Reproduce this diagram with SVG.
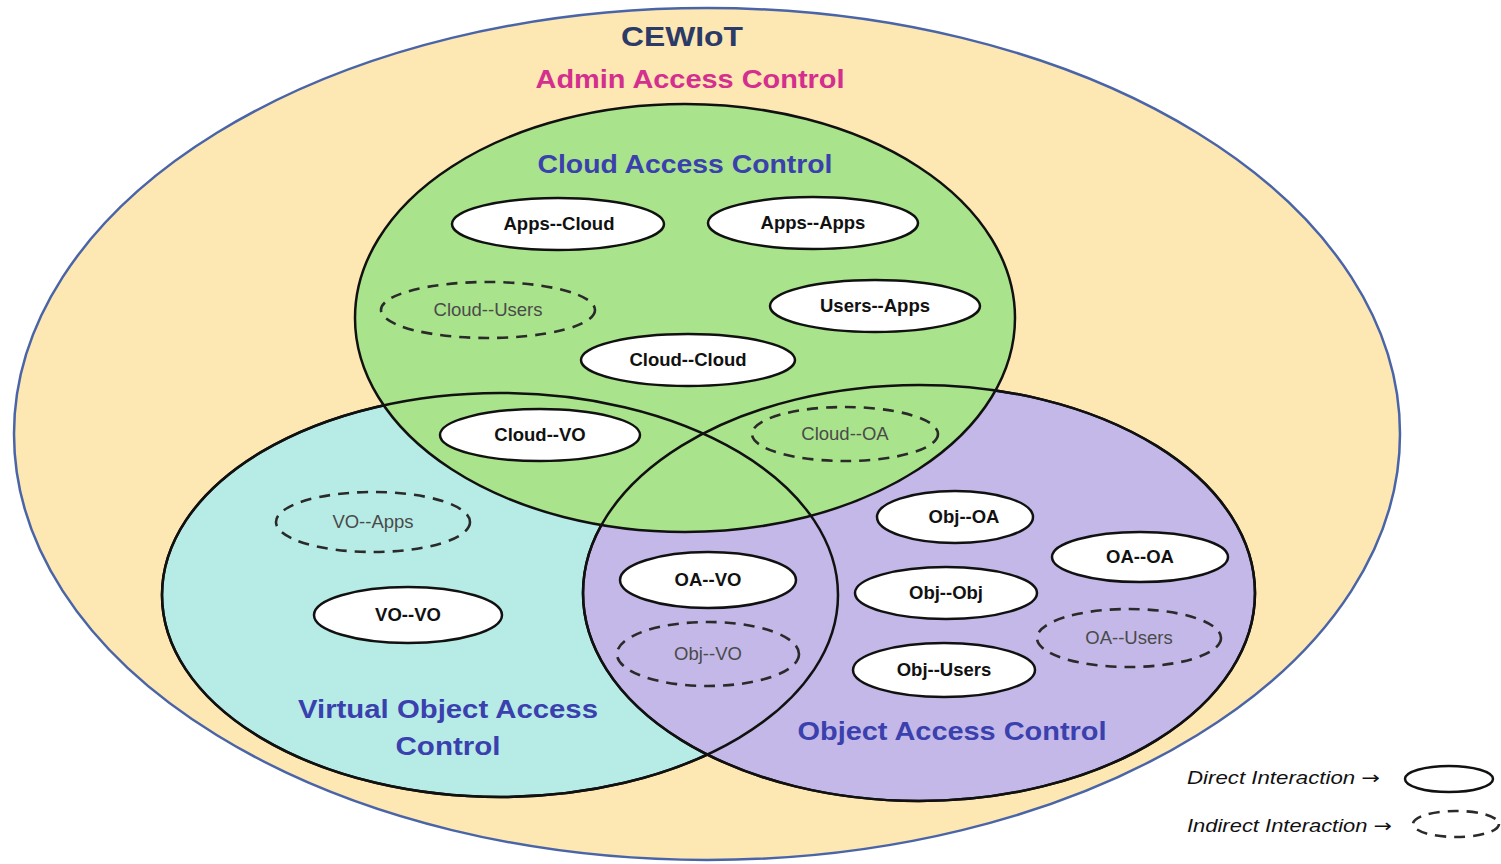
<svg xmlns="http://www.w3.org/2000/svg" width="1501" height="864" viewBox="0 0 1501 864">
<style>
.region{stroke:#111;stroke-width:2.5}
.edge{fill:none;stroke:#111;stroke-width:2.5}
.direct{fill:#fff;stroke:#111;stroke-width:2.5}
.indirect{fill:none;stroke:#2a2a2a;stroke-width:2.6;stroke-dasharray:11 8}
.dl{font-family:"Liberation Sans",Arial,sans-serif;font-weight:bold;font-size:18.5px;fill:#111;text-anchor:middle}
.il{font-family:"Liberation Sans",Arial,sans-serif;font-size:18.5px;fill:#4a4a4a;text-anchor:middle}
.title{font-family:"Liberation Sans",Arial,sans-serif;font-weight:bold;text-anchor:middle}
.blue{fill:#3a40ad;font-size:26px}
.leg{font-family:"Liberation Sans",Arial,sans-serif;font-style:italic;font-size:18px;fill:#111}
.arr{font-family:"DejaVu Sans",sans-serif;font-style:normal;font-size:18px}
</style>
<rect width="1501" height="864" fill="#fff"/>
<g id="admin-access-control">
<ellipse cx="707" cy="434" rx="693" ry="426" fill="#fde7b3" stroke="#4a64a8" stroke-width="2.5"/>
<text class="title" x="682" y="46" font-size="28" fill="#2b3a67" textLength="122" lengthAdjust="spacingAndGlyphs">CEWIoT</text>
<text class="title" x="690" y="88" font-size="26" fill="#d42f8e" textLength="309" lengthAdjust="spacingAndGlyphs">Admin Access Control</text>
</g>
<g id="virtual-object-access-control">
<ellipse class="region" cx="500" cy="595" rx="338" ry="202" fill="#b7ece6"/>
</g>
<g id="object-access-control">
<ellipse class="region" cx="919" cy="593" rx="336" ry="208" fill="#c3b8e7"/>
</g>
<g id="cloud-access-control">
<ellipse class="region" cx="685" cy="318" rx="330" ry="214" fill="#a9e38b"/>
</g>
<g id="region-edges">
<ellipse class="edge" cx="500" cy="595" rx="338" ry="202"/>
<ellipse class="edge" cx="919" cy="593" rx="336" ry="208"/>
</g>
<g id="region-labels">
<text class="title blue" x="685" y="173" textLength="295" lengthAdjust="spacingAndGlyphs">Cloud Access Control</text>
<text class="title blue" x="448" y="718" textLength="300" lengthAdjust="spacingAndGlyphs">Virtual Object Access</text>
<text class="title blue" x="448" y="755" textLength="105" lengthAdjust="spacingAndGlyphs">Control</text>
<text class="title blue" x="952" y="740" textLength="309" lengthAdjust="spacingAndGlyphs">Object Access Control</text>
</g>
<g id="connectors"></g>
<g id="apps-cloud"><ellipse class="direct" cx="558" cy="224" rx="106" ry="26"/><text class="dl" x="559" y="230">Apps--Cloud</text></g>
<g id="apps-apps"><ellipse class="direct" cx="813" cy="223" rx="105" ry="26"/><text class="dl" x="813" y="229">Apps--Apps</text></g>
<g id="cloud-users"><ellipse class="indirect" cx="488" cy="310" rx="107" ry="28"/><text class="il" x="488" y="316">Cloud--Users</text></g>
<g id="users-apps"><ellipse class="direct" cx="875" cy="306" rx="105" ry="26"/><text class="dl" x="875" y="312">Users--Apps</text></g>
<g id="cloud-cloud"><ellipse class="direct" cx="688" cy="360" rx="107" ry="26"/><text class="dl" x="688" y="366">Cloud--Cloud</text></g>
<g id="cloud-vo"><ellipse class="direct" cx="540" cy="435" rx="100" ry="26"/><text class="dl" x="540" y="441">Cloud--VO</text></g>
<g id="cloud-oa"><ellipse class="indirect" cx="845" cy="434" rx="93" ry="27"/><text class="il" x="845" y="440">Cloud--OA</text></g>
<g id="vo-apps"><ellipse class="indirect" cx="373" cy="522" rx="97" ry="30"/><text class="il" x="373" y="528">VO--Apps</text></g>
<g id="vo-vo"><ellipse class="direct" cx="408" cy="615" rx="94" ry="28"/><text class="dl" x="408" y="621">VO--VO</text></g>
<g id="oa-vo"><ellipse class="direct" cx="708" cy="580" rx="88" ry="28"/><text class="dl" x="708" y="586">OA--VO</text></g>
<g id="obj-vo"><ellipse class="indirect" cx="708" cy="654" rx="91" ry="32"/><text class="il" x="708" y="660">Obj--VO</text></g>
<g id="obj-oa"><ellipse class="direct" cx="955" cy="517" rx="78" ry="26"/><text class="dl" x="964" y="523">Obj--OA</text></g>
<g id="oa-oa"><ellipse class="direct" cx="1140" cy="557" rx="88" ry="25"/><text class="dl" x="1140" y="563">OA--OA</text></g>
<g id="obj-obj"><ellipse class="direct" cx="946" cy="593" rx="91" ry="26"/><text class="dl" x="946" y="599">Obj--Obj</text></g>
<g id="oa-users"><ellipse class="indirect" cx="1129" cy="638" rx="92" ry="29"/><text class="il" x="1129" y="644">OA--Users</text></g>
<g id="obj-users"><ellipse class="direct" cx="944" cy="670" rx="91" ry="27"/><text class="dl" x="944" y="676">Obj--Users</text></g>
<g id="legend">
<text class="leg" x="1187" y="784" textLength="193" lengthAdjust="spacingAndGlyphs">Direct Interaction <tspan class="arr">→</tspan></text>
<ellipse class="direct" cx="1449" cy="779" rx="44" ry="13"/>
<text class="leg" x="1187" y="832" textLength="205" lengthAdjust="spacingAndGlyphs">Indirect Interaction <tspan class="arr">→</tspan></text>
<ellipse class="indirect" cx="1456" cy="824" rx="43" ry="13" stroke-dasharray="9 7"/>
</g>
</svg>
